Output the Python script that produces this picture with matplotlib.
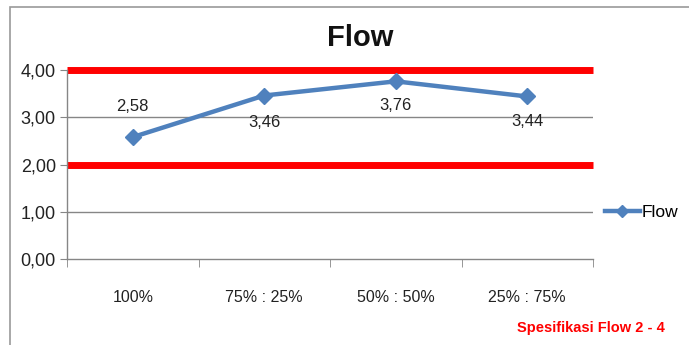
import matplotlib
matplotlib.use("Agg")
import matplotlib.pyplot as plt
from matplotlib.lines import Line2D
from matplotlib.patches import Rectangle

plt.rcParams["font.family"] = ["Liberation Sans", "DejaVu Sans"]

categories = ["100%", "75% : 25%", "50% : 50%", "25% : 75%"]
flow = [2.58, 3.46, 3.76, 3.44]
spec_low, spec_high = 2.0, 4.0
label_offsets = [31, -27, -24, -25]  # px above (+) / below (-) each point

blue = "#4F81BD"
red = "#FF0000"
grey = "#868686"

fig = plt.figure(figsize=(6.89, 3.45), dpi=100)
fig.patches.append(Rectangle((10 / 689, -0.1), 1.0, 1 - 7 / 345 + 0.1,
                             transform=fig.transFigure, fill=False,
                             edgecolor="#9a9a9a", lw=1.2))

ax = fig.add_axes([67 / 689, 1 - 259 / 345, (593 - 67) / 689, 189 / 345])
x = list(range(len(categories)))

for yv in [1, 2, 3, 4]:
    ax.axhline(yv, color=grey, lw=1.0, zorder=1)
for yv in [spec_low, spec_high]:
    ax.axhline(yv, color=red, lw=5, zorder=2, clip_on=False,
               solid_capstyle="butt")

ax.plot(x, flow, color=blue, lw=3.2, marker="D", markersize=8,
        markerfacecolor=blue, markeredgecolor=blue, zorder=3, clip_on=False)

for xi, v, off in zip(x, flow, label_offsets):
    ax.annotate(f"{v:.2f}".replace(".", ","), (xi, v), xytext=(0, off),
                textcoords="offset pixels", ha="center", va="center",
                fontsize=12, color="#222222")

ax.set_xlim(-0.5, len(categories) - 0.5)
ax.set_ylim(0, 4)
ax.set_yticks([0, 1, 2, 3, 4])
ax.set_yticklabels([f"{v:.2f}".replace(".", ",") for v in [0, 1, 2, 3, 4]])
ax.set_xticks(x)
ax.set_xticklabels(categories)
ax.set_xticks([i - 0.5 for i in range(len(categories) + 1)], minor=True)
ax.tick_params(axis="x", which="major", length=0, pad=22, labelsize=11.5, colors="#222222")
ax.tick_params(axis="x", which="minor", length=6, direction="out", color=grey)
ax.tick_params(axis="y", length=5, direction="out", color=grey, labelsize=13,
               pad=3, labelcolor="#222222")
for side in ["top", "right"]:
    ax.spines[side].set_visible(False)
for side in ["left", "bottom"]:
    ax.spines[side].set_color(grey)
    ax.spines[side].set_linewidth(1.0)

fig.text(360 / 689, 1 - 38 / 345, "Flow", ha="center", va="center",
         fontsize=21, fontweight="bold", color="#111111")

handle = Line2D([], [], color=blue, lw=3.2, marker="D", markersize=6)
fig.legend([handle], ["Flow"], loc="center left",
           bbox_to_anchor=(605 / 689, 1 - 212 / 345), frameon=False,
           fontsize=12.5, handlelength=2.0, handletextpad=0.1,
           borderpad=0, borderaxespad=0)

fig.text(665 / 689, 1 - 328 / 345, "Spesifikasi Flow 2 - 4", ha="right",
         va="center", fontsize=10.5, fontweight="bold", color=red)

fig.savefig("out.png", dpi=100)
